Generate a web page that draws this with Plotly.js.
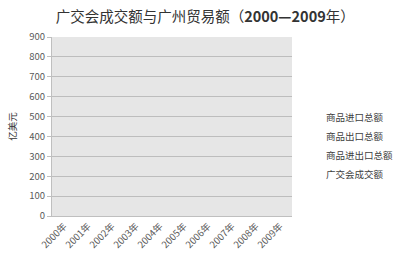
<!DOCTYPE html>
<html><head><meta charset="utf-8">
<script src="https://cdn.plot.ly/plotly-3.0.1.min.js"></script>
<style>html,body{margin:0;padding:0;background:#fff}#c{width:400px;height:263px}</style>
</head><body><div id="c"></div>
<script>
const years = ["2000年","2001年","2002年","2003年","2004年","2005年","2006年","2007年","2008年","2009年"];
const seriesNames = ["商品进口总额","商品出口总额","商品进出口总额","广交会成交额"];
// The reference chart shows no plotted values: every series is empty.
const importTotal = [null,null,null,null,null,null,null,null,null,null];
const exportTotal = [null,null,null,null,null,null,null,null,null,null];
const tradeTotal = [null,null,null,null,null,null,null,null,null,null];
const fairTotal = [null,null,null,null,null,null,null,null,null,null];
const yTicks = [0,100,200,300,400,500,600,700,800,900];

const F = '"Noto Sans CJK SC", "Noto Sans", sans-serif';
const seriesData = [importTotal, exportTotal, tradeTotal, fairTotal];
const traces = seriesData.map((v,i)=>({
  type:'scatter', mode:'lines', x:years, y:v, name:seriesNames[i],
  line:{width:0, color:'rgba(0,0,0,0)'}, hoverinfo:'skip'
}));
const layout = {
  width:400, height:263,
  margin:{l:52, r:108, t:37, b:47, autoexpand:false},
  paper_bgcolor:'#ffffff', plot_bgcolor:'#e6e6e6',
  font:{family:F, color:'#595959', size:9},
  title:{text:'广交会成交额与广州贸易额（<b>2000—2009</b>年）', font:{family:F, size:14.5, color:'#333333'}, x:0.513, xref:'container', xanchor:'center', y:0.935, yanchor:'middle'},
  xaxis:{type:'category', categoryorder:'array', categoryarray:years, range:[-0.5,9.5],
    tickangle:-45, showgrid:false, zeroline:false, showline:true, linecolor:'#bfbfbf', linewidth:1,
    ticks:'', tickfont:{family:F, size:9.5, color:'#595959'}, fixedrange:true, automargin:false},
  yaxis:{range:[0,900], tickvals:yTicks, ticktext:yTicks.map(String), showgrid:true, gridcolor:'#bdbdbd', gridwidth:1,
    zeroline:false, showline:true, linecolor:'#bfbfbf', linewidth:1, ticks:'outside', ticklen:4, tickcolor:'#bfbfbf',
    tickfont:{family:F, size:9.5, color:'#595959'}, automargin:false,
    title:{text:'亿美元', font:{family:F, size:9.5, color:'#333333'}, standoff:10}, fixedrange:true},
  showlegend:true,
  legend:{xref:'container', yref:'container', x:0.715, xanchor:'left', y:0.608, yanchor:'top',
    font:{family:F, size:9.5, color:'#404040'},
    bgcolor:'rgba(0,0,0,0)', itemwidth:30, tracegroupgap:0},
};
Plotly.newPlot('c', traces, layout, {staticPlot:true, displayModeBar:false});
</script></body></html>
